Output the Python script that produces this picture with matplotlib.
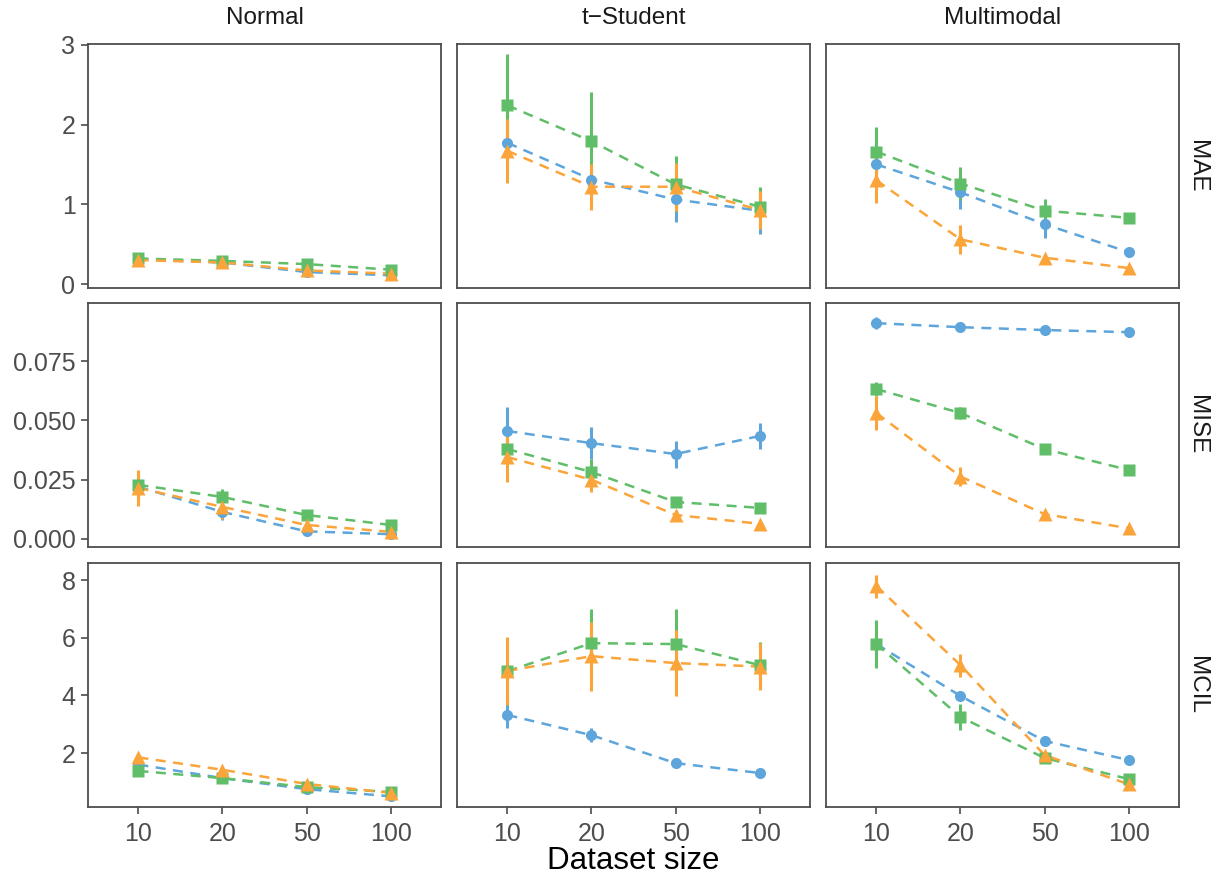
import matplotlib
matplotlib.use("Agg")
import matplotlib.pyplot as plt
import numpy as np

plt.rcParams['font.family'] = ['Liberation Sans', 'DejaVu Sans']

sizes = ["10", "20", "50", "100"]
dists = ["Normal", "t\u2212Student", "Multimodal"]
metrics = ["MAE", "MISE", "MCIL"]

# colours of the three methods (blue circle, green square, orange triangle)
c_blue = "#5DA5DA"
c_green = "#60BD68"
c_orange = "#FAA43A"

# MAE : rows = Normal, t-Student, Multimodal
mae_blue = [[0.31, 0.27, 0.15, 0.11], [1.77, 1.31, 1.06, 0.92], [1.50, 1.15, 0.75, 0.40]]
mae_blue_err = [[0.04, 0.03, 0.03, 0.02], [0.30, 0.20, 0.28, 0.29], [0.20, 0.21, 0.17, 0.04]]
mae_green = [[0.32, 0.29, 0.25, 0.18], [2.24, 1.79, 1.25, 0.97], [1.66, 1.26, 0.92, 0.83]]
mae_green_err = [[0.05, 0.04, 0.03, 0.02], [0.65, 0.62, 0.35, 0.25], [0.31, 0.21, 0.14, 0.03]]
mae_orange = [[0.30, 0.27, 0.17, 0.13], [1.67, 1.22, 1.22, 0.93], [1.30, 0.56, 0.33, 0.20]]
mae_orange_err = [[0.05, 0.04, 0.03, 0.02], [0.40, 0.29, 0.30, 0.24], [0.28, 0.18, 0.04, 0.02]]

# MISE
mise_blue = [[0.0220, 0.0114, 0.0032, 0.0020], [0.0455, 0.0404, 0.0358, 0.0434], [0.0910, 0.0893, 0.0881, 0.0872]]
mise_blue_err = [[0.0060, 0.0035, 0.0010, 0.0008], [0.0100, 0.0068, 0.0057, 0.0053], [0.0025, 0.0015, 0.0010, 0.0008]]
mise_green = [[0.0228, 0.0177, 0.0101, 0.0059], [0.0379, 0.0282, 0.0156, 0.0131], [0.0632, 0.0531, 0.0379, 0.0291]]
mise_green_err = [[0.0060, 0.0035, 0.0020, 0.0010], [0.0040, 0.0055, 0.0020, 0.0020], [0.0030, 0.0025, 0.0010, 0.0008]]
mise_orange = [[0.0215, 0.0135, 0.0059, 0.0030], [0.0345, 0.0250, 0.0101, 0.0064], [0.0531, 0.0263, 0.0105, 0.0045]]
mise_orange_err = [[0.0075, 0.0050, 0.0030, 0.0010], [0.0105, 0.0053, 0.0020, 0.0010], [0.0070, 0.0040, 0.0015, 0.0008]]

# MCIL
mcil_blue = [[1.60, 1.13, 0.75, 0.50], [3.32, 2.62, 1.65, 1.31], [5.78, 3.98, 2.42, 1.76]]
mcil_blue_err = [[0.10, 0.06, 0.05, 0.04], [0.45, 0.25, 0.08, 0.06], [0.30, 0.15, 0.10, 0.08]]
mcil_green = [[1.38, 1.13, 0.82, 0.65], [4.84, 5.81, 5.78, 5.05], [5.78, 3.25, 1.83, 1.10]]
mcil_green_err = [[0.08, 0.06, 0.05, 0.04], [1.15, 1.17, 1.20, 0.80], [0.83, 0.45, 0.10, 0.08]]
mcil_orange = [[1.85, 1.42, 0.93, 0.62], [4.85, 5.36, 5.12, 5.00], [7.79, 5.05, 1.93, 0.92]]
mcil_orange_err = [[0.10, 0.08, 0.06, 0.05], [1.17, 1.20, 1.15, 0.82], [0.40, 0.40, 0.10, 0.08]]

data = {
    "MAE": [(mae_blue, mae_blue_err, c_blue, "o"),
            (mae_green, mae_green_err, c_green, "s"),
            (mae_orange, mae_orange_err, c_orange, "^")],
    "MISE": [(mise_blue, mise_blue_err, c_blue, "o"),
             (mise_green, mise_green_err, c_green, "s"),
             (mise_orange, mise_orange_err, c_orange, "^")],
    "MCIL": [(mcil_blue, mcil_blue_err, c_blue, "o"),
             (mcil_green, mcil_green_err, c_green, "s"),
             (mcil_orange, mcil_orange_err, c_orange, "^")],
}

ylims = {"MAE": (-0.05, 3.01), "MISE": (-0.0034, 0.0995), "MCIL": (0.13, 8.59)}
yticks = {"MAE": [0, 1, 2, 3], "MISE": [0.0, 0.025, 0.05, 0.075], "MCIL": [2, 4, 6, 8]}
yticklabels = {"MAE": ["0", "1", "2", "3"], "MISE": ["0.000", "0.025", "0.050", "0.075"],
               "MCIL": ["2", "4", "6", "8"]}

W, H = 1228, 880
fig = plt.figure(figsize=(W / 100, H / 100), dpi=100)

lefts = [88, 457, 826]
tops = [44, 303, 563]
pw, ph = 353, 244
grey = "#4D4D4D"
x = np.arange(1, 5)

for r, m in enumerate(metrics):
    for c, d in enumerate(dists):
        ax = fig.add_axes([lefts[c] / W, 1 - (tops[r] + ph) / H, pw / W, ph / H])
        for means, errs, col, mk in data[m]:
            y = np.array(means[c])
            e = np.array(errs[c])
            ax.vlines(x, y - e, y + e, color=col, lw=2.2, zorder=2)
            ax.plot(x, y, ls=(0, (4, 3)), color=col, lw=1.8, zorder=2)
            ax.plot(x, y, ls="none", marker=mk, color=col, ms=8 if mk != "^" else 9.5,
                    mec="none", zorder=3)
        ax.set_xlim(0.4, 4.6)
        ax.set_ylim(*ylims[m])
        ax.set_xticks(x)
        ax.set_yticks(yticks[m])
        for s in ax.spines.values():
            s.set_color(grey)
            s.set_linewidth(1.3)
        ax.tick_params(direction="out", length=5, width=1.2, color=grey,
                       labelcolor=grey, labelsize=18, pad=4)
        if r == 2:
            ax.set_xticklabels(sizes)
            ax.tick_params(axis="x", pad=6)
        else:
            ax.tick_params(axis="x", bottom=False, labelbottom=False)
        if c == 0:
            ax.set_yticklabels(yticklabels[m])
        else:
            ax.tick_params(axis="y", left=False, labelleft=False)
        if r == 0:
            fig.text((lefts[c] + pw / 2) / W, 1 - 18 / H, d, ha="center", va="center",
                     fontsize=17.5, color="#1A1A1A")
        if c == 2:
            fig.text(1197 / W, 1 - (tops[r] + ph / 2) / H, m, rotation=270,
                     ha="center", va="center", fontsize=17.5, color="#1A1A1A")

fig.text((88 + 1179) / 2 / W, 1 - 861 / H, "Dataset size", ha="center", va="center",
         fontsize=22.5, color="black")

fig.savefig("out.png", dpi=100)
